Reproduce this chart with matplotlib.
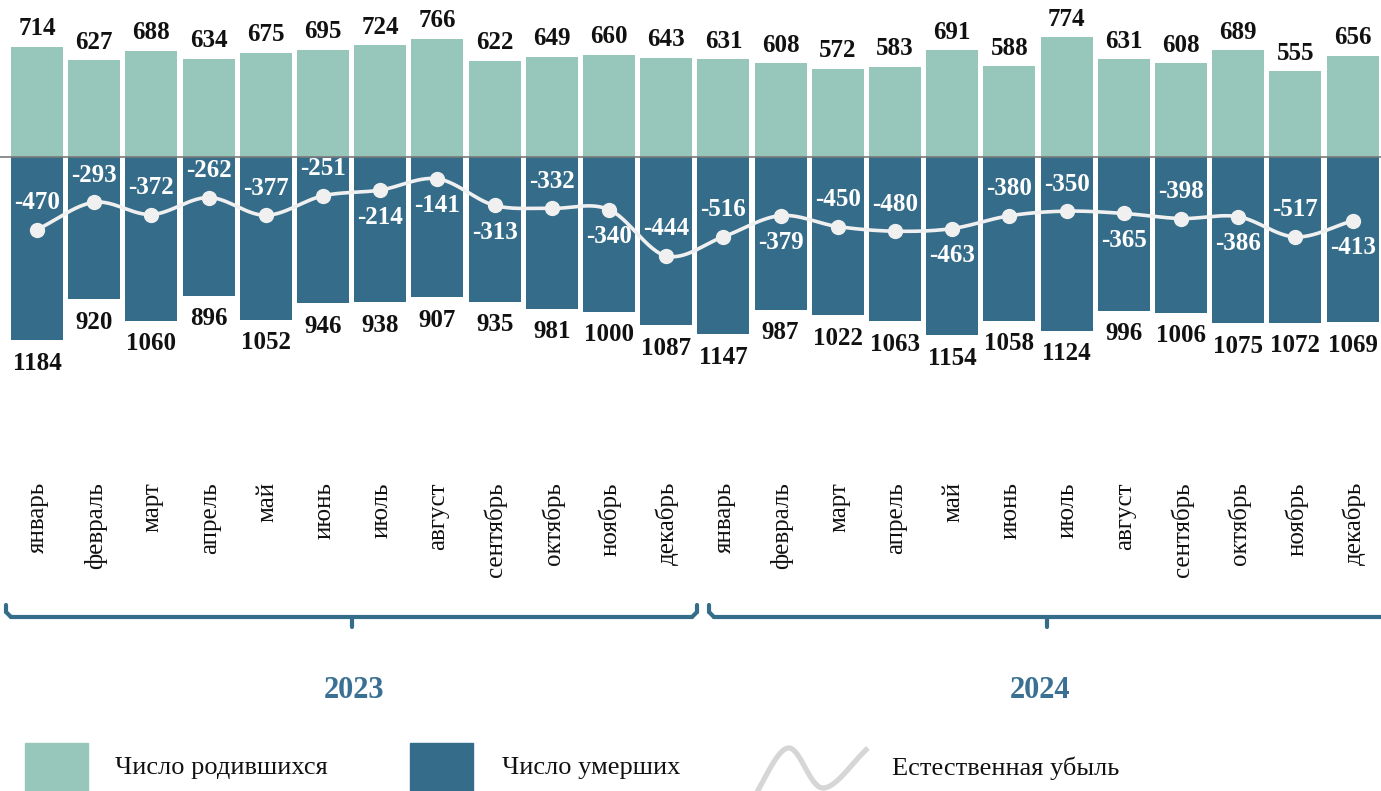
import numpy as np
import matplotlib
matplotlib.use("Agg")
import matplotlib.pyplot as plt
from matplotlib.patches import Rectangle

# ---------------- data ----------------
months = ["январь", "февраль", "март", "апрель", "май", "июнь", "июль", "август",
          "сентябрь", "октябрь", "ноябрь", "декабрь"] * 2
years = ["2023", "2024"]
births = [714, 627, 688, 634, 675, 695, 724, 766, 622, 649, 660, 643,
          631, 608, 572, 583, 691, 588, 774, 631, 608, 689, 555, 656]
deaths = [1184, 920, 1060, 896, 1052, 946, 938, 907, 935, 981, 1000, 1087,
          1147, 987, 1022, 1063, 1154, 1058, 1124, 996, 1006, 1075, 1072, 1069]
# natural decrease labels as printed on the chart
decrease_labels = [-470, -293, -372, -262, -377, -251, -214, -141, -313, -332, -340, -444,
                   -516, -379, -450, -480, -463, -380, -350, -365, -398, -386, -517, -413]
# positions of the line points as drawn (Dec 2023 point is drawn lower than its label)
decrease_line = [-470, -293, -372, -262, -377, -251, -214, -141, -313, -332, -340, -640,
                 -516, -379, -450, -480, -463, -380, -350, -365, -398, -386, -517, -413]
# label placement relative to point: 'a' above, 'b' below
label_side = ["a", "a", "a", "a", "a", "a", "b", "b", "b", "a", "b", "a",
              "a", "b", "a", "a", "b", "a", "a", "b", "a", "b", "a", "b"]
legend_labels = ["Число родившихся", "Число умерших", "Естественная убыль"]

# ---------------- style ----------------
C_BIRTH = "#97c7bb"
C_DEATH = "#346c8a"
C_LINE = "#f0f0f0"
C_YEAR = "#3a7093"
SERIF = ["Liberation Serif", "DejaVu Serif"]

W, H = 1381, 791
fig = plt.figure(figsize=(W / 100, H / 100), dpi=100)
ax = fig.add_axes([0, 0, 1, 1])
ax.set_axis_off()

slot = 57.2          # px per category
x0 = 37.0            # px of first category center
zero_py = 157.0      # px of zero line from top
scale = 0.1546       # px per unit
ax.set_xlim(-x0 / slot, (W - x0) / slot)
ax.set_ylim(-(H - zero_py) / scale, zero_py / scale)


def fy(py):
    """pixel-from-top -> axes fraction"""
    return 1 - py / H


def fx(px):
    return px / W


def catmull(xs, ys, nseg=30):
    pts = np.column_stack([xs, ys]).astype(float)
    P = np.vstack([pts[0] - (pts[1] - pts[0]), pts, pts[-1] + (pts[-1] - pts[-2])])
    out = []
    for k in range(1, len(P) - 2):
        p0, p1, p2, p3 = P[k - 1], P[k], P[k + 1], P[k + 2]
        t = np.linspace(0, 1, nseg)[:, None]
        seg = 0.5 * ((2 * p1) + (-p0 + p2) * t + (2 * p0 - 5 * p1 + 4 * p2 - p3) * t ** 2
                     + (-p0 + 3 * p1 - 3 * p2 + p3) * t ** 3)
        out.append(seg)
    out = np.vstack(out)
    return out[:, 0], out[:, 1]


n = len(births)
x = np.arange(n)
bw = 0.91
ax.bar(x, births, width=bw, color=C_BIRTH, zorder=2)
ax.bar(x, [-d for d in deaths], width=bw, color=C_DEATH, zorder=2)
ax.axhline(0, color="#7a7a7a", lw=1.2, zorder=3)

px_unit = 1 / scale  # data units per pixel
NUM_FS = 18
for i in range(n):
    ax.text(i, births[i] + 18 * px_unit, str(births[i]), ha="center", va="center",
            fontsize=NUM_FS, fontweight="bold", family=SERIF, color="#111111", zorder=5)
    ax.text(i, -deaths[i] - 23 * px_unit, str(deaths[i]), ha="center", va="center",
            fontsize=NUM_FS, fontweight="bold", family=SERIF, color="#111111", zorder=5)

# smooth line through the points
cx, cy = catmull(x, decrease_line)
ax.plot(cx, cy, color=C_LINE, lw=2.6, zorder=4, solid_capstyle="round")
ax.plot(x, decrease_line, "o", color=C_LINE, ms=10, zorder=4)

for i in range(n):
    off = 27 if label_side[i] == "a" else -27
    ax.text(i, decrease_line[i] + off * px_unit, str(decrease_labels[i]),
            ha="center", va="center", fontsize=NUM_FS, fontweight="bold", family=SERIF,
            color="white", zorder=5)

# month labels
trans = ax.get_xaxis_transform()
for i, m in enumerate(months):
    ax.text(i + 0.02, fy(482), m, rotation=90, ha="center", va="top", fontsize=18,
            family=SERIF, color="#111111", transform=trans)


# year brackets
def seg(xa, ya, xb, yb):
    ax.plot([fx(xa), fx(xb)], [fy(ya), fy(yb)], color=C_DEATH, lw=3,
            transform=ax.transAxes, solid_capstyle="round")


def bracket(xl, xr, xm, curl_right=True):
    seg(xl, 605, xl, 612)
    seg(xl, 612, xl + 5, 617)
    seg(xl + 5, 617, xr - 5 if curl_right else xr, 617)
    if curl_right:
        seg(xr - 5, 617, xr, 612)
        seg(xr, 612, xr, 605)
    seg(xm, 617, xm, 627)


bracket(6, 697, 352, curl_right=True)
bracket(709, 1383, 1047, curl_right=False)

ax.text(fx(354), fy(690), years[0], ha="center", va="center", fontsize=22,
        fontweight="bold", family=SERIF, color=C_YEAR, transform=ax.transAxes)
ax.text(fx(1040), fy(690), years[1], ha="center", va="center", fontsize=22,
        fontweight="bold", family=SERIF, color=C_YEAR, transform=ax.transAxes)

# legend
ax.add_patch(Rectangle((fx(25), fy(795)), fx(63), 52 / H, transform=ax.transAxes,
                       color=C_BIRTH, clip_on=False))
ax.add_patch(Rectangle((fx(410), fy(795)), fx(63), 52 / H, transform=ax.transAxes,
                       color=C_DEATH, clip_on=False))
ix, iy = catmull([752, 788, 823, 868], [800, 748, 788, 748], nseg=40)
ax.plot([fx(v) for v in ix], [fy(v) for v in iy], color="#d6d6d6", lw=3.8,
        transform=ax.transAxes, solid_capstyle="butt")
for px, lab in zip([115, 502, 892], legend_labels):
    ax.text(fx(px), fy(768), lab, ha="left", va="center", fontsize=19,
            family=SERIF, color="#111111", transform=ax.transAxes)

fig.savefig("out.png", dpi=100)
